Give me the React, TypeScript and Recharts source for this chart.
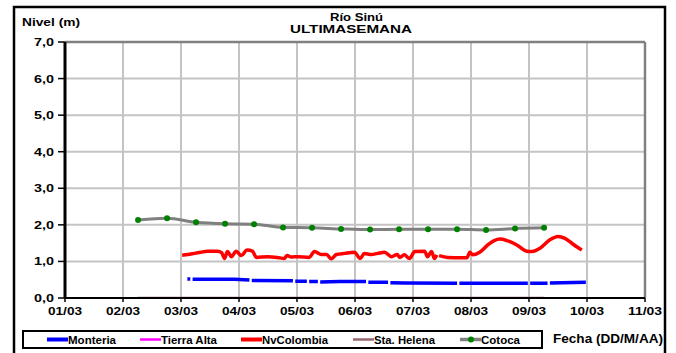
import { LineChart, Line, XAxis, YAxis, CartesianGrid, ReferenceLine } from "recharts";

// x values are day numbers: 1 = 01/03 00:00, 2.5 = 02/03 12:00
const dayTicks = [1, 2, 3, 4, 5, 6, 7, 8, 9, 10, 11];
const levelTicks = [0, 1, 2, 3, 4, 5, 6, 7];
const gridLevels = [0.5, 1, 1.5, 2, 2.5, 3, 3.5, 4, 4.5, 5, 5.5, 6, 6.5, 7];

type Pt = [number, number | null];

const monteria: Pt[] = [
  [3.11, 0.52], [3.16, 0.52], [3.18, null], [3.2, 0.51], [3.92, 0.51], [4.18, 0.49],
  [4.2, null], [4.22, 0.48], [4.93, 0.47], [4.95, null], [4.97, 0.46], [5.17, 0.46],
  [5.19, null], [5.21, 0.45], [5.36, 0.45], [5.38, null], [5.4, 0.44], [5.74, 0.45],
  [6.19, 0.45], [6.21, null], [6.23, 0.43], [6.57, 0.43], [6.59, null], [6.61, 0.42],
  [6.87, 0.41], [7.76, 0.4], [7.78, null], [7.8, 0.4], [8.98, 0.4], [9.0, null],
  [9.02, 0.4], [9.32, 0.4], [9.34, null], [9.36, 0.41], [9.98, 0.43],
];

const nvColombia: Pt[] = [
  [3.02, 1.17], [3.12, 1.19], [3.23, 1.22], [3.34, 1.25], [3.45, 1.28], [3.63, 1.28],
  [3.7, 1.24], [3.75, 1.08], [3.8, 1.27], [3.87, 1.13], [3.95, 1.28], [4.04, 1.16],
  [4.14, 1.31], [4.23, 1.28], [4.3, 1.11], [4.49, 1.13], [4.66, 1.11], [4.78, 1.08],
  [4.83, 1.16], [4.9, 1.12], [5.01, 1.13], [5.21, 1.11], [5.3, 1.27], [5.42, 1.19],
  [5.51, 1.19], [5.59, 1.07], [5.68, 1.19], [5.82, 1.22], [5.99, 1.25], [6.09, 1.08],
  [6.16, 1.22], [6.28, 1.19], [6.39, 1.22], [6.51, 1.25], [6.63, 1.13], [6.73, 1.19],
  [6.77, 1.11], [6.85, 1.18], [6.94, 1.08], [7.03, 1.27], [7.2, 1.28], [7.25, 1.13],
  [7.32, 1.27], [7.37, 1.08], [7.41, 1.18], [7.43, null], [7.45, 1.16], [7.6, 1.11],
  [7.84, 1.1], [7.93, 1.1], [7.98, 1.25], [8.03, 1.18], [8.15, 1.25], [8.29, 1.45],
  [8.4, 1.57], [8.5, 1.61], [8.62, 1.57], [8.79, 1.45], [8.96, 1.28], [9.05, 1.27],
  [9.19, 1.36], [9.36, 1.59], [9.5, 1.68], [9.62, 1.63], [9.76, 1.47], [9.91, 1.31],
];

const staHelena: Pt[] = [[2.25, 0], [9.26, 0]];

const cotoca: Pt[] = [
  [2.26, 2.13], [2.76, 2.18], [3.26, 2.07], [3.76, 2.03], [4.26, 2.02], [4.76, 1.93],
  [5.26, 1.92], [5.76, 1.89], [6.26, 1.87], [6.76, 1.88], [7.26, 1.88], [7.76, 1.88],
  [8.26, 1.86], [8.76, 1.9], [9.26, 1.92],
];

const legendItems = [
  { name: "Monteria", color: "#0000ff", width: 4, x: 47, len: 48 },
  { name: "Tierra Alta", color: "#ff00ff", width: 2.5, x: 140, len: 56 },
  { name: "NvColombia", color: "#ff0000", width: 4, x: 241, len: 66 },
  { name: "Sta. Helena", color: "#996670", width: 2.5, x: 353, len: 61 },
  { name: "Cotoca", color: "#808080", width: 3.5, x: 460, len: 39, dot: "#008000" },
];

const toRows = (pts: Pt[]) => pts.map(([d, v]) => ({ d, v }));

const font = "'Liberation Sans', Arial, sans-serif";

function XTick(props: any) {
  const { x, y, payload } = props;
  const label = `${String(payload.value).padStart(2, "0")}/03`;
  return (
    <text x={x} y={y + 11} textAnchor="middle" fontFamily={font} fontWeight="bold" fontSize={11.5}
      fill="#000" textLength={34} lengthAdjust="spacingAndGlyphs">
      {label}
    </text>
  );
}

function YTick(props: any) {
  const { x, y, payload } = props;
  const label = Number(payload.value).toFixed(1).replace(".", ",");
  return (
    <text x={x - 2} y={y + 4} textAnchor="end" fontFamily={font} fontWeight="bold" fontSize={11.5}
      fill="#000" textLength={20} lengthAdjust="spacingAndGlyphs">
      {label}
    </text>
  );
}

export default function App() {
  return (
    <div style={{ position: "fixed", left: 0, top: 0, width: 676, height: 353, background: "#fff", overflow: "hidden" }}>
      <div style={{ position: "absolute", left: 0, top: 0 }}>
        <LineChart width={676} height={353} margin={{ top: 42, right: 31, bottom: 25, left: 15 }}>
          <CartesianGrid stroke="#c4c4c4" strokeWidth={2} horizontalValues={gridLevels} verticalValues={dayTicks} />
          <XAxis dataKey="d" type="number" domain={[1, 11]} ticks={dayTicks} height={30}
            axisLine={{ stroke: "#000", strokeWidth: 2 }} tickLine={{ stroke: "#000", strokeWidth: 1.5 }}
            tickSize={4} tick={<XTick />} allowDataOverflow />
          <YAxis type="number" domain={[0, 7]} ticks={levelTicks} width={50}
            axisLine={{ stroke: "#000", strokeWidth: 3 }} tickLine={{ stroke: "#000", strokeWidth: 1.5 }}
            tickSize={7} tick={<YTick />} allowDataOverflow />
          <ReferenceLine y={7} stroke="#808080" strokeWidth={2.5} ifOverflow="visible" />
          <ReferenceLine x={11} stroke="#808080" strokeWidth={2.5} ifOverflow="visible" />
          <Line data={toRows(staHelena)} dataKey="v" stroke="#996670" strokeWidth={2.5} dot={false}
            activeDot={false} isAnimationActive={false} />
          <Line data={toRows(monteria)} dataKey="v" stroke="#0000ff" strokeWidth={3.5} dot={false}
            activeDot={false} isAnimationActive={false} />
          <Line data={toRows(nvColombia)} dataKey="v" type="monotone" stroke="#ff0000" strokeWidth={3.5} dot={false}
            activeDot={false} isAnimationActive={false} strokeLinejoin="round" />
          <Line data={toRows(cotoca)} dataKey="v" type="monotone" stroke="#808080" strokeWidth={3}
            dot={{ r: 3, fill: "#008000", stroke: "none" }} activeDot={false} isAnimationActive={false} />
        </LineChart>
      </div>
      <svg width={676} height={353} style={{ position: "absolute", left: 0, top: 0, pointerEvents: "none" }}
        fontFamily={font} fontWeight="bold">
        <path d="M14,360 L14,7 L665,7 L665,360" fill="none" stroke="#000" strokeWidth={2.5} />
        <text x={22} y={26} fontSize={11.5} textLength={58} lengthAdjust="spacingAndGlyphs">Nivel (m)</text>
        <text x={330} y={20.5} fontSize={11.5} textLength={53} lengthAdjust="spacingAndGlyphs">Río Sinú</text>
        <text x={290} y={33.3} fontSize={11.5} textLength={122} lengthAdjust="spacingAndGlyphs">ULTIMASEMANA</text>
        <rect x={23} y={331} width={519} height={17} fill="none" stroke="#000" strokeWidth={2} />
        {legendItems.map((it) => (
          <g key={it.name}>
            <line x1={it.x} x2={it.x + 21} y1={339.5} y2={339.5} stroke={it.color} strokeWidth={it.width} />
            {it.dot && <circle cx={it.x + 11} cy={339.5} r={3} fill={it.dot} />}
            <text x={it.x + 21} y={343.5} fontSize={11} textLength={it.len} lengthAdjust="spacingAndGlyphs">{it.name}</text>
          </g>
        ))}
        <text x={553} y={343} fontSize={13} textLength={110} lengthAdjust="spacingAndGlyphs">Fecha (DD/M/AA)</text>
      </svg>
    </div>
  );
}
